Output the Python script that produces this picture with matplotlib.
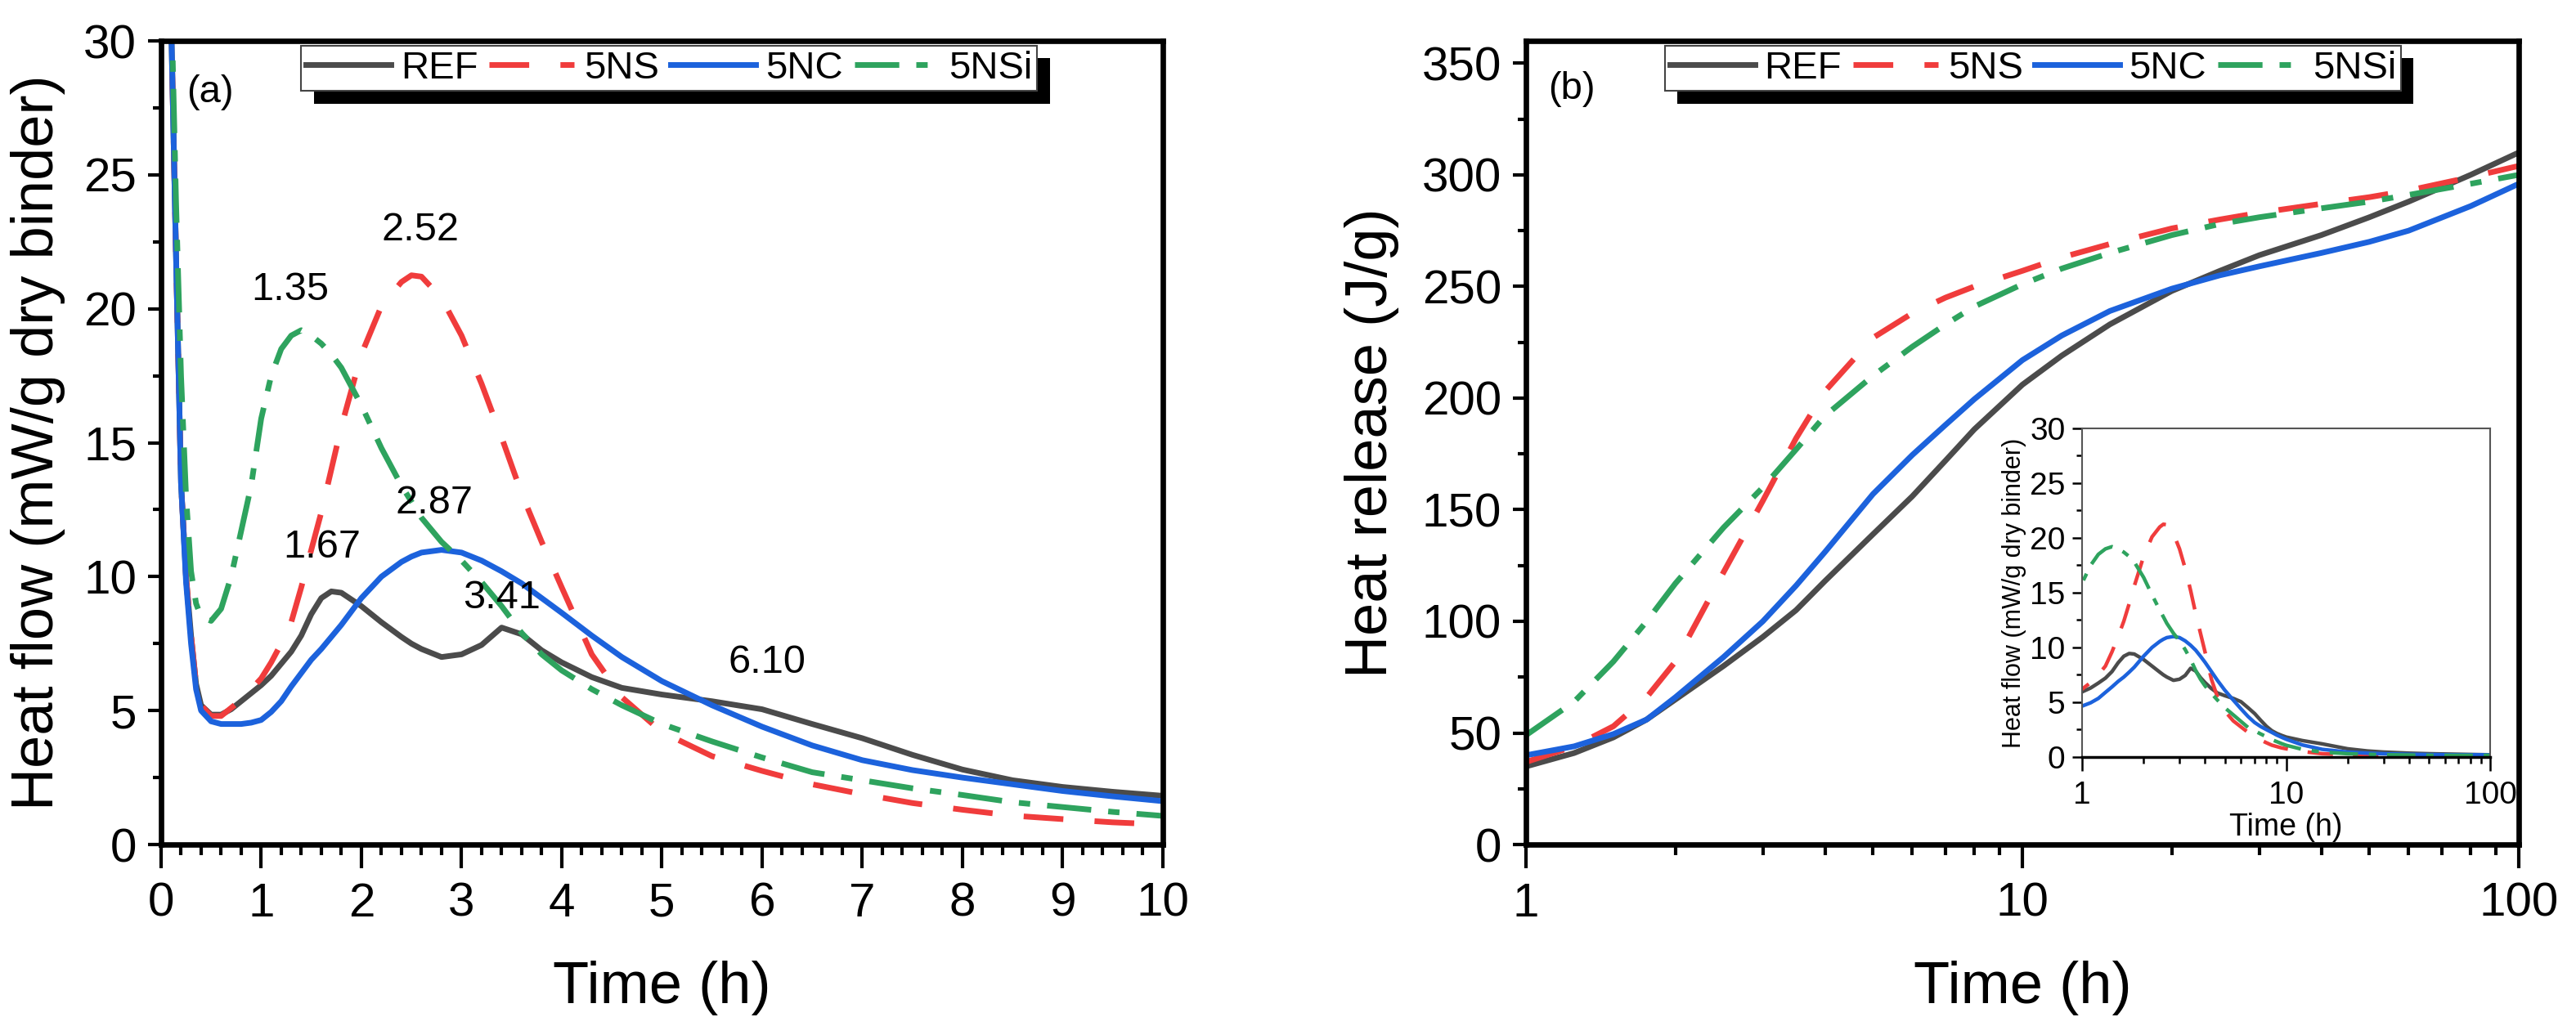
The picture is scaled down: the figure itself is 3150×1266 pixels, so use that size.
import matplotlib
matplotlib.use('Agg')
import matplotlib.pyplot as plt
import matplotlib.patheffects as pe
from matplotlib.ticker import MultipleLocator, LogLocator, NullFormatter

plt.rcParams['font.family'] = ['Liberation Sans', 'DejaVu Sans']

# heat flow (mW/g dry binder) against time (h)
t_flow = [0, 0.05, 0.1, 0.15, 0.2, 0.25, 0.3, 0.35, 0.4,
          0.5, 0.6, 0.7, 0.8, 0.9, 1.0, 1.1, 1.2, 1.3, 1.4, 1.5, 1.6, 1.7, 1.8,
          2.0, 2.2, 2.4, 2.5, 2.6, 2.8, 3.0, 3.2, 3.4, 3.6, 3.8, 4.0,
          4.3, 4.6, 5.0, 5.5, 6.0, 6.5, 7.0, 7.5, 8.0, 8.5, 9.0, 9.5, 10,
          12, 15, 20, 25, 30, 40, 50, 70, 100]
ref_flow = [60, 45, 31, 22, 13.5, 10, 7.8, 6.0, 5.2,
            4.85, 4.85, 5.05, 5.35, 5.65, 5.95, 6.3, 6.75, 7.2, 7.8, 8.6, 9.2, 9.45, 9.4,
            8.9, 8.3, 7.75, 7.5, 7.3, 7.0, 7.1, 7.45, 8.1, 7.85, 7.25, 6.8,
            6.25, 5.85, 5.6, 5.35, 5.05, 4.5, 3.97, 3.35, 2.8, 2.4, 2.15, 1.97, 1.82,
            1.5, 1.2, 0.75, 0.55, 0.45, 0.35, 0.3, 0.25, 0.2]
ns_flow = [60, 45, 31, 22, 13.5, 10, 7.8, 6.0, 5.2,
           4.8, 4.8, 5.1, 5.4, 5.8, 6.2, 6.8, 7.5, 8.3, 9.6, 11.0, 12.4, 14.0, 15.6,
           18.3, 20.1, 21.0, 21.25, 21.2, 20.4, 19.0, 17.2, 15.2, 13.1, 11.3, 9.6,
           7.1, 5.5, 4.2, 3.3, 2.75, 2.25, 1.88, 1.55, 1.3, 1.08, 0.95, 0.83, 0.75,
           0.5, 0.3, 0.2, 0.15, 0.12, 0.1, 0.1, 0.1, 0.1]
nc_flow = [60, 45, 31, 22, 13.5, 9.8, 7.5, 5.8, 5.0,
           4.6, 4.5, 4.5, 4.5, 4.55, 4.65, 4.95, 5.35, 5.9, 6.4, 6.9, 7.3, 7.75, 8.2,
           9.2, 10.0, 10.55, 10.75, 10.9, 11.0, 10.9, 10.6, 10.2, 9.75, 9.2, 8.65,
           7.8, 7.0, 6.1, 5.2, 4.4, 3.7, 3.15, 2.78, 2.5, 2.25, 2.0, 1.8, 1.62,
           1.1, 0.7, 0.45, 0.35, 0.3, 0.25, 0.22, 0.2, 0.2]
nsi_flow = [60, 45, 32, 24, 17.5, 13, 10.2, 9.0, 8.5,
            8.35, 8.8, 10.0, 11.7, 13.4, 15.9, 17.5, 18.5, 19.0, 19.2, 19.0, 18.7, 18.3, 17.8,
            16.4, 14.8, 13.4, 12.8, 12.2, 11.3, 10.6, 9.8, 8.9, 7.9, 7.1, 6.5,
            5.8, 5.2, 4.5, 3.85, 3.25, 2.7, 2.4, 2.1, 1.85, 1.58, 1.4, 1.22, 1.07,
            0.7, 0.45, 0.3, 0.25, 0.2, 0.18, 0.15, 0.15, 0.15]

# cumulative heat release (J/g) against time (h)
t_heat = [1, 1.25, 1.5, 1.75, 2, 2.5, 3, 3.5, 4, 5, 6, 7, 8, 10,
          12, 15, 20, 25, 30, 40, 50, 60, 80, 100]
ref_heat = [35, 41, 48, 56, 65, 80, 93, 105, 118, 139, 156, 172, 186, 206,
            219, 233, 248, 257, 264, 273, 281, 288, 300, 310]
ns_heat = [37, 44, 53, 66, 82, 122, 154, 182, 203, 227, 238, 245, 250, 257,
           263, 269, 276, 280, 283, 287, 290, 293, 299, 304]
nc_heat = [40, 44, 49.5, 56, 66, 84, 100, 116, 131, 157, 174.5, 188, 199.5, 217,
           228, 239, 249, 255, 259, 265, 270, 275, 286, 296]
nsi_heat = [49, 64, 82, 100, 117, 142, 160, 177, 192, 210, 223, 233, 241, 251,
            258, 265, 273, 278, 281, 285, 288, 291, 296, 300]

names = ['REF', '5NS', '5NC', '5NSi']
flows = [ref_flow, ns_flow, nc_flow, nsi_flow]
heats = [ref_heat, ns_heat, nc_heat, nsi_heat]
colors = ['#4b4b4b', '#f03c3c', '#1c62dc', '#2ea35e']
styles = ['-', (0, (7.0, 5.5)), '-', (0, (7.8, 3.0, 2.0, 3.0))]

peak_text = ['1.35', '2.52', '1.67', '2.87', '3.41', '6.10']
peak_x = [1.29, 2.59, 1.61, 2.73, 3.40, 6.05]
peak_y = [20.7, 22.95, 11.1, 12.75, 9.2, 6.8]


def style_main(ax):
    for s in ax.spines.values():
        s.set_linewidth(4.8)
    ax.tick_params(which='both', direction='out', top=False, right=False,
                   width=3, labelsize=42)
    ax.tick_params(axis='x', which='major', length=21, pad=12)
    ax.tick_params(axis='x', which='minor', length=9.5)
    ax.tick_params(axis='y', which='major', length=11.5, pad=10)
    ax.tick_params(axis='y', which='minor', length=7)


def add_legend(ax):
    leg = ax.legend(names, loc='upper left', bbox_to_anchor=(0.14, 0.994), ncol=4,
                    fontsize=34, fancybox=False, framealpha=1, edgecolor='#444444',
                    borderpad=0.12, handlelength=2.2, handletextpad=0.25,
                    columnspacing=0.3, borderaxespad=0)
    fr = leg.get_frame()
    fr.set_linewidth(1.5)
    fr.set_path_effects([pe.SimplePatchShadow(offset=(11, -11), shadow_rgbFace='k', alpha=1),
                         pe.Normal()])
    return leg


fig = plt.figure(figsize=(31.5, 12.66), dpi=100)

# (a) heat flow
ax1 = fig.add_axes([0.0625, 0.184, 0.3889, 0.7765])
for y, c, ls in zip(flows, colors, styles):
    ax1.plot(t_flow, y, color=c, ls=ls, lw=5)
ax1.set_xlim(0, 10)
ax1.set_ylim(0, 30)
ax1.xaxis.set_major_locator(MultipleLocator(1))
ax1.xaxis.set_minor_locator(MultipleLocator(0.2))
ax1.yaxis.set_major_locator(MultipleLocator(5))
ax1.yaxis.set_minor_locator(MultipleLocator(2.5))
style_main(ax1)
ax1.set_xlabel('Time (h)', fontsize=52, labelpad=30)
ax1.set_ylabel('Heat flow (mW/g dry binder)', fontsize=52, labelpad=16)
for s, x, y in zip(peak_text, peak_x, peak_y):
    ax1.text(x, y, s, fontsize=35, ha='center', va='center')
ax1.text(0.049, 0.936, '(a)', transform=ax1.transAxes, fontsize=34, ha='center', va='center')
add_legend(ax1)

# (b) heat release
ax2 = fig.add_axes([0.5924, 0.184, 0.3854, 0.7765])
for y, c, ls in zip(heats, colors, styles):
    ax2.plot(t_heat, y, color=c, ls=ls, lw=5)
ax2.set_xscale('log')
ax2.set_xlim(1, 100)
ax2.set_ylim(0, 360)
ax2.set_xticks([1, 10, 100], labels=['1', '10', '100'])
ax2.xaxis.set_minor_locator(LogLocator(base=10, subs=range(2, 10)))
ax2.xaxis.set_minor_formatter(NullFormatter())
ax2.yaxis.set_major_locator(MultipleLocator(50))
ax2.yaxis.set_minor_locator(MultipleLocator(25))
style_main(ax2)
ax2.set_xlabel('Time (h)', fontsize=52, labelpad=30)
ax2.set_ylabel('Heat release (J/g)', fontsize=52, labelpad=20)
ax2.text(0.046, 0.94, '(b)', transform=ax2.transAxes, fontsize=34, ha='center', va='center')
add_legend(ax2)

# inset: heat flow on log time
axi = fig.add_axes([0.8083, 0.2686, 0.1584, 0.3175])
for y, c, ls in zip(flows, colors, styles):
    axi.plot(t_flow, y, color=c, ls=ls, lw=3.2)
axi.set_xscale('log')
axi.set_xlim(1, 100)
axi.set_ylim(0, 30)
axi.set_xticks([1, 10, 100], labels=['1', '10', '100'])
axi.xaxis.set_minor_locator(LogLocator(base=10, subs=range(2, 10)))
axi.xaxis.set_minor_formatter(NullFormatter())
axi.yaxis.set_major_locator(MultipleLocator(5))
axi.yaxis.set_minor_locator(MultipleLocator(2.5))
for k, s in axi.spines.items():
    s.set_linewidth(1.5)
    s.set_color('#555555')
axi.spines['bottom'].set_color('black')
axi.spines['bottom'].set_linewidth(2.5)
axi.tick_params(which='both', direction='out', top=False, right=False, width=1.8, labelsize=28)
axi.tick_params(axis='y', which='major', length=9, pad=6)
axi.tick_params(axis='y', which='minor', length=5)
axi.tick_params(axis='x', which='major', length=12, pad=9)
axi.tick_params(axis='x', which='minor', length=6)
axi.set_xlabel('Time (h)', fontsize=27, labelpad=2)
axi.set_ylabel('Heat flow (mW/g dry binder)', fontsize=22, labelpad=3)

fig.savefig('out.png', dpi=100)
